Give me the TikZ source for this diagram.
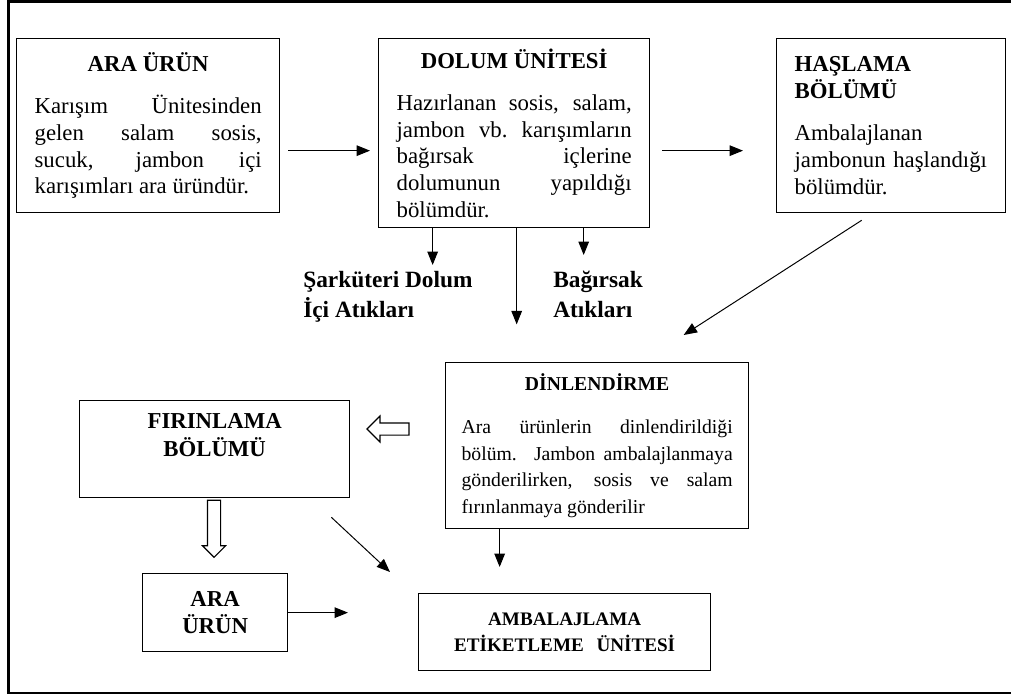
\documentclass[tikz,border=0pt]{standalone}
\usepackage{xcolor}
\usepackage{fontspec}
\setmainfont{Liberation Serif}
\usepackage{tikz}
\usetikzlibrary{calc}
\usetikzlibrary{arrows.meta}
\usetikzlibrary{shapes}
\usetikzlibrary{shapes.arrows}
\tikzset{>=latex}
\hyphenpenalty=10000
\exhyphenpenalty=10000
\newcommand{\stagefont}{\fontsize{16.2pt}{19pt}\selectfont}
\newcommand{\smallstagefont}{\fontsize{14pt}{19pt}\selectfont}
\newcommand{\wastefont}{\fontsize{16.6pt}{21pt}\selectfont\bfseries}
\tikzstyle{stage} = [rectangle, draw, line width=0.9pt, inner xsep=0.45cm, inner ysep=0pt, anchor=north west, font=\stagefont]
\tikzstyle{flow} = [-{Triangle[length=9.5pt, width=7.5pt]}, line width=0.7pt]
\tikzstyle{waste} = [draw=none, inner sep=0, align=left, anchor=north west, font=\wastefont]
\tikzstyle{hollow} = [single arrow, draw, line width=0.8pt, fill=white]

\begin{document}
\begin{tikzpicture}[x=0.025cm, y=-0.025cm]
\useasboundingbox (0,0) rectangle (1011,695);
\draw [line width=2.1pt] (1030,1.7) -- (8.5,1.7) -- (8.5,693) -- (1030,693);

%\node [draw=none] at (500,20) {Şarküteri üretim akışı};
\node [stage, text width=5.675cm, minimum height=4.35cm, align=justify] (ara1) at (16,38)
  {{\centering\bfseries ARA ÜRÜN\par}\vspace{11pt}%
   Karışım Ünitesinden\linebreak gelen salam sosis,\linebreak sucuk, jambon içi\linebreak karışımları ara üründür.};
\node [stage, text width=5.875cm, minimum height=4.725cm, align=justify] (dolum) at (378,38)
  {{\centering\bfseries DOLUM ÜNİTESİ\par}\vspace{11pt}%
   Hazırlanan sosis, salam,\linebreak jambon vb.\ karışımların\linebreak bağırsak içlerine\linebreak dolumunun yapıldığı\linebreak bölümdür.};
\node [stage, text width=4.825cm, minimum height=4.35cm, align=left] (hasl) at (776,38)
  {{\bfseries HAŞLAMA\\BÖLÜMÜ\par}\vspace{11pt}%
   Ambalajlanan\\jambonun haşlandığı\\bölümdür.};
\node [stage, inner xsep=0.4cm, text width=6.775cm, minimum height=4.15cm, align=justify, font=\smallstagefont] (din) at (445,362)
  {{\centering\bfseries DİNLENDİRME\par}\vspace{11.5pt}%
   Ara ürünlerin dinlendirildiği\linebreak bölüm. Jambon ambalajlanmaya\linebreak gönderilirken, sosis ve salam\linebreak fırınlanmaya gönderilir};
\node [stage, text width=5.85cm, minimum height=2.425cm, align=center, font=\fontsize{16.2pt}{20pt}\selectfont\bfseries] (firin) at (79,400)
  {FIRINLAMA\\BÖLÜMÜ\\\mbox{}};
\node [stage, text width=2.725cm, minimum height=1.95cm, align=center, font=\stagefont\bfseries] (ara2) at (142,573)
  {ARA\\ÜRÜN};
\node [stage, text width=6.4cm, minimum height=1.925cm, align=center, font=\fontsize{13.6pt}{19pt}\selectfont\bfseries] (amb) at (418,593)
  {AMBALAJLAMA\\ETİKETLEME\ \ ÜNİTESİ};

\node [waste] (sark) at (303,271) {Şarküteri Dolum\\İçi Atıkları};
\node [waste] (bag) at (553,271) {Bağırsak\\Atıkları};

\coordinate (a1) at ([yshift=-0.625cm]ara1.east);
\coordinate (d1) at ([yshift=-0.4375cm]dolum.east);
\coordinate (d2) at ([xshift=-2.0375cm]dolum.south);
\coordinate (d3) at ([xshift=1.7375cm]dolum.south);
\coordinate (d4) at ([xshift=0.0625cm, yshift=-2.4cm]dolum.south);
\coordinate (d5) at ([xshift=-2.4375cm]din.south);

\draw [flow, shorten <=0.2cm, shorten >=0.2cm] (a1) -- (a1 -| dolum.west);
\draw [flow, shorten <=0.3cm, shorten >=0.825cm] (d1) -- (d1 -| hasl.west);
\draw [flow, shorten >=0.15cm] (d2) -- (d2 |- sark.north);
\draw [flow, shorten >=0.4cm] (d3) -- (d3 |- bag.north);
\draw [flow] (dolum.south -| d4) -- (d4);
\draw [flow] ([shift={(-29.5,7)}]hasl.south) -- ([shift={(86.5,-27)}]din.north);
\draw [flow, shorten >=0.65cm] (d5) -- (d5 |- amb.north);
\draw [flow] ([shift={(-19,19)}]firin.south east) -- ([shift={(-28,-21)}]amb.north west);
\draw [flow, shorten >=1.75cm] (ara2.east) -- (ara2.east -| amb.west);

\node [hollow, shape border rotate=180, inner sep=0.1375cm, single arrow head extend=0.175cm, minimum height=1.05cm] (toleft) at (391,429) {};
\node [hollow, shape border rotate=270, inner sep=0.15cm, single arrow head extend=0.125cm, minimum height=1.425cm] (todown) at (214,525.5) {};
\end{tikzpicture}
\end{document}
